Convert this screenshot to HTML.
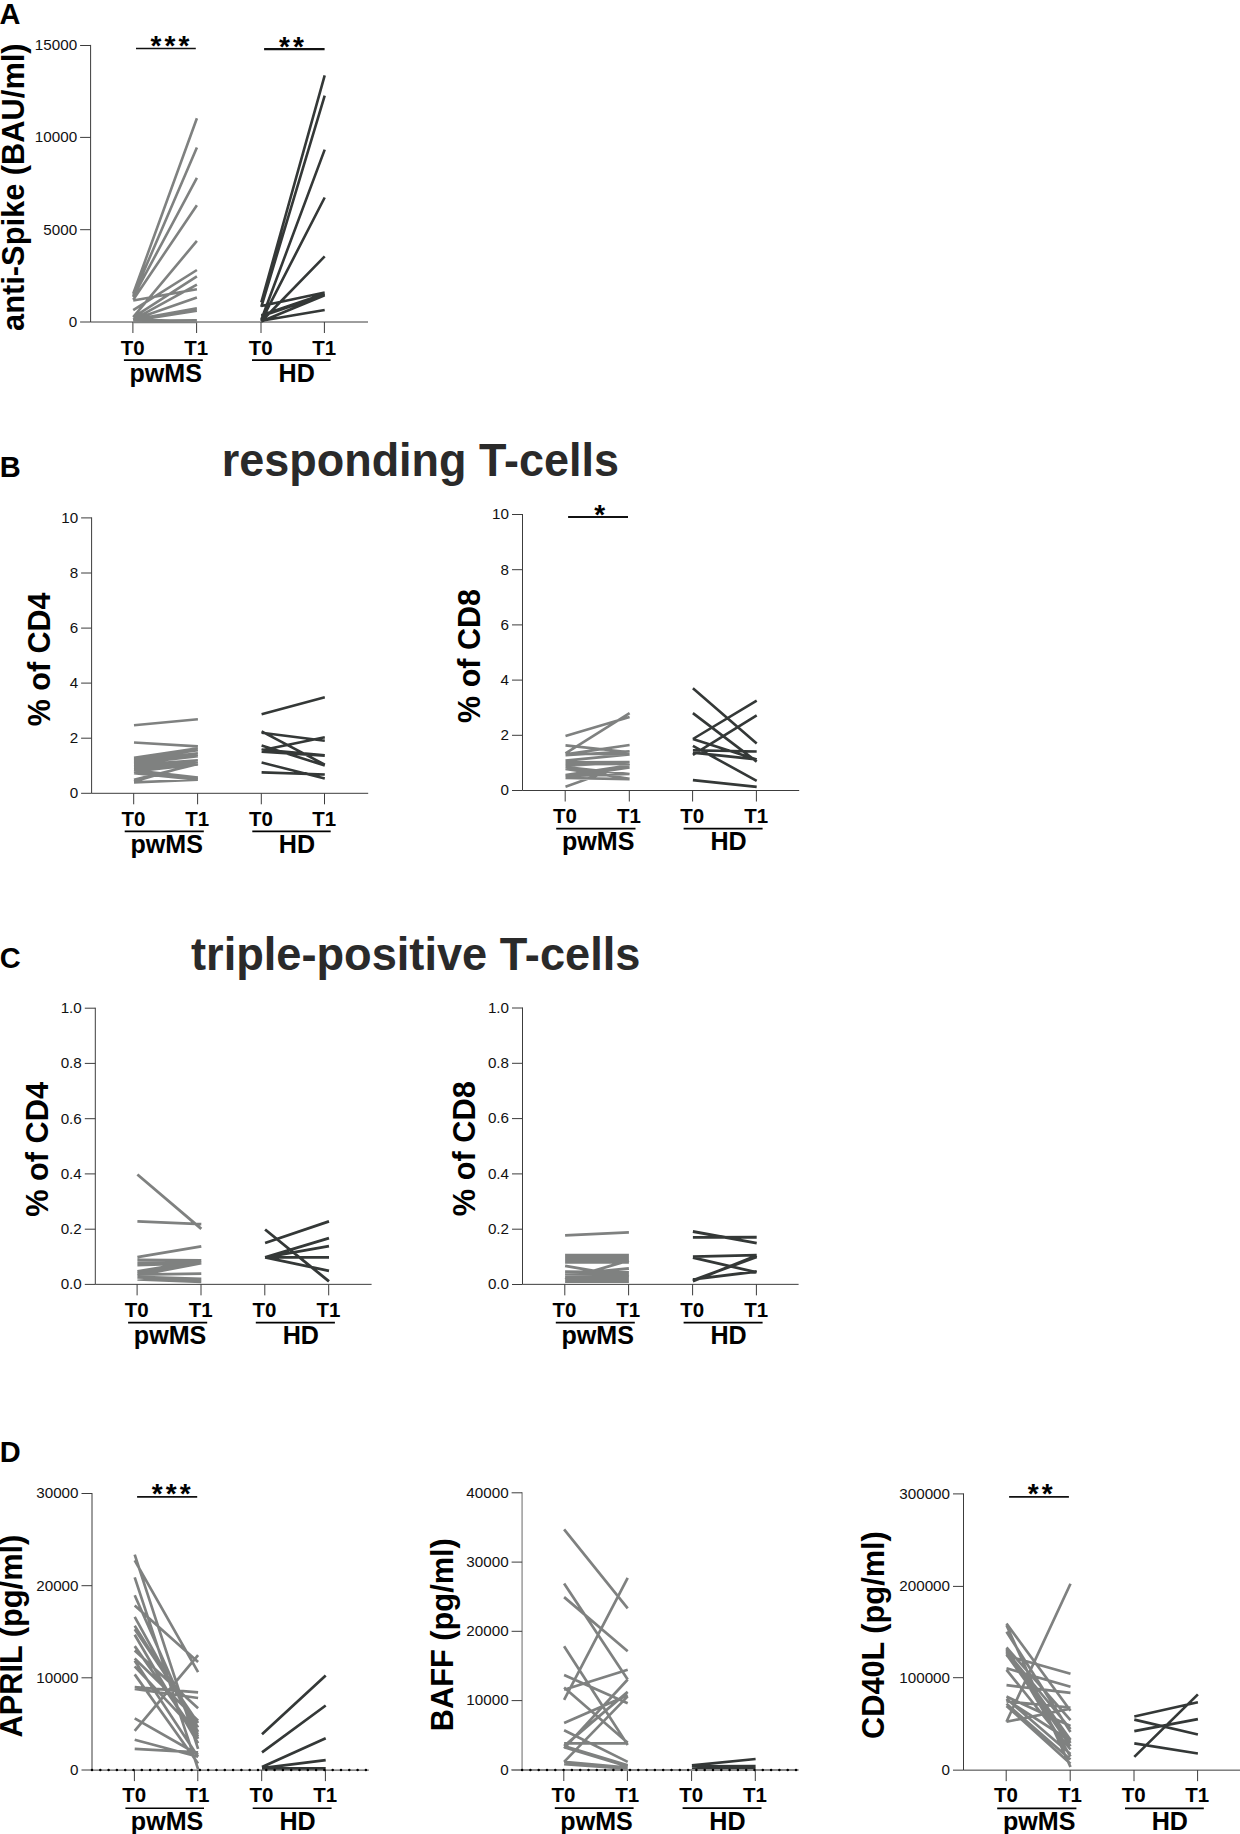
<!DOCTYPE html>
<html lang="en">
<head>
<meta charset="utf-8">
<title>Figure</title>
<style>
html,body{margin:0;padding:0;background:#fff;}
body{width:1240px;height:1834px;overflow:hidden;}
svg{display:block;}
text{font-family:"Liberation Sans",Arial,Helvetica,sans-serif;fill:#000;}
.tk{font-size:15.2px;text-anchor:end;fill:#111;}
.xt{font-size:20.5px;font-weight:bold;text-anchor:middle;}
.gp{font-size:25.1px;font-weight:bold;text-anchor:middle;}
.yl{font-size:30px;font-weight:bold;text-anchor:middle;}
.sg{font-size:28px;font-weight:bold;}
.pl{font-size:29px;font-weight:bold;}
.tt{font-size:46.2px;font-weight:bold;fill:#2a2a2a;}
</style>
</head>
<body>
<svg width="1240" height="1834" viewBox="0 0 1240 1834">
<rect width="1240" height="1834" fill="#fff"/>
<text class="pl" x="-0.4" y="23.8">A</text>
<text class="pl" x="-0.2" y="476.5">B</text>
<text class="pl" x="-0.2" y="968">C</text>
<text class="pl" x="-0.2" y="1461.6">D</text>
<text class="tt" transform="translate(221.8 476) scale(0.973 1)">responding T-cells</text>
<text class="tt" transform="translate(191.0 969.9) scale(0.978 1)">triple-positive T-cells</text>
<g>
<path d="M90.6 44.9V322H368" stroke="#3c3c3c" stroke-width="1.0" fill="none"/>
<path d="M80.1 45.5H90.6M80.1 137.4H90.6M80.1 229.7H90.6M80.1 322H90.6" stroke="#3c3c3c" stroke-width="1.0" fill="none"/>
<path d="M132.9 322V333M196.6 322V333M261 322V333M324.4 322V333" stroke="#3c3c3c" stroke-width="1.0" fill="none"/>
<path d="M133.2 293.7L196.9 118.3M133.2 296L196.9 147.6M133.2 297L196.9 177.9M133.2 299.7L196.9 205.2M133.2 317.1L196.9 240.9M133.2 300.5L196.9 289.2M133.2 310.2L196.9 270M133.2 317.4L196.9 276.3M133.2 319.7L196.9 284.7M133.2 319.7L196.9 297.5M133.2 319.7L196.9 308.4M133.2 320.8L196.9 310.6M133.2 320.8L196.9 320.3M133.2 321.9L196.9 321.9M133.2 319.6L196.9 321.2" stroke="#7f8180" stroke-width="2.6" fill="none"/>
<path d="M261.3 302.4L324.7 75.4M261.3 306.8L324.7 95.7M261.3 319.7L324.7 149.6M261.3 320.8L324.7 197.5M261.3 321.5L324.7 256.4M261.3 306.1L324.7 292.6M261.3 315.2L324.7 293.7M261.3 316.3L324.7 294.8M261.3 321.5L324.7 295.3M261.3 320.8L324.7 310" stroke="#343837" stroke-width="2.6" fill="none"/>
<text class="tk" x="77.1" y="50.35">15000</text>
<text class="tk" x="77.1" y="142.25">10000</text>
<text class="tk" x="77.1" y="234.55">5000</text>
<text class="tk" x="77.1" y="326.85">0</text>
<text class="xt" x="132.6" y="354.65">T0</text>
<text class="xt" x="196.3" y="354.65">T1</text>
<text class="xt" x="260.7" y="354.65">T0</text>
<text class="xt" x="324.1" y="354.65">T1</text>
<path d="M123.9 360.2H202.8" stroke="#000" stroke-width="1.7"/>
<text class="gp" x="165.75" y="381.55">pwMS</text>
<path d="M252 360.2H330.6" stroke="#000" stroke-width="1.7"/>
<text class="gp" x="296.7" y="381.55">HD</text>
<text class="yl" style="font-size:31.7px" transform="translate(23.7 187.15) rotate(-90) scale(0.972 1)">anti-Spike (BAU/ml)</text>
<path d="M136 48.4H195.8" stroke="#111" stroke-width="1.5"/>
<text class="sg" x="150.45" y="54.9" letter-spacing="3.11">***</text>
<path d="M264.1 49.1H324.6" stroke="#111" stroke-width="2.1"/>
<text class="sg" x="278.95" y="55.6" letter-spacing="3.11">**</text>
</g>
<g>
<path d="M91.6 517.4V793.3H368.2" stroke="#3c3c3c" stroke-width="1.0" fill="none"/>
<path d="M81.1 517.9H91.6M81.1 573H91.6M81.1 628.1H91.6M81.1 683.1H91.6M81.1 738.2H91.6M81.1 793.3H91.6" stroke="#3c3c3c" stroke-width="1.0" fill="none"/>
<path d="M133.7 793.3V804.3M197.6 793.3V804.3M261.3 793.3V804.3M324.5 793.3V804.3" stroke="#3c3c3c" stroke-width="1.0" fill="none"/>
<path d="M134 725.25L197.9 719.2M134 742.5L197.9 746.4M134 757.8L197.9 748.4M134 759.1L197.9 750.1M134 760.6L197.9 753.3M134 762L197.9 754.8M134 763.5L197.9 756.2M134 764.9L197.9 760.2M134 766.4L197.9 761.7M134 767.1L197.9 763.1M134 770.4L197.9 777.6M134 771.8L197.9 779.1M134 773.3L197.9 779.8M134 779.8L197.9 763.9M134 781.6L197.9 763.1M134 782.4L197.9 779.8M134 769.6L197.9 763.9M134 771.5L197.9 764.4" stroke="#7f8180" stroke-width="2.6" fill="none"/>
<path d="M261.6 714.3L324.8 697.3M261.6 732.8L324.8 740.8M261.6 731.4L324.8 764.7M261.6 750.2L324.8 737.2M261.6 745.5L324.8 765.5M261.6 749.5L324.8 755.3M261.6 751.7L324.8 755.7M261.6 762.6L324.8 778.5M261.6 772.4L324.8 774.5" stroke="#343837" stroke-width="2.6" fill="none"/>
<text class="tk" x="78.1" y="522.75">10</text>
<text class="tk" x="78.1" y="577.85">8</text>
<text class="tk" x="78.1" y="632.95">6</text>
<text class="tk" x="78.1" y="687.95">4</text>
<text class="tk" x="78.1" y="743.05">2</text>
<text class="tk" x="78.1" y="798.15">0</text>
<text class="xt" x="133.4" y="825.5">T0</text>
<text class="xt" x="197.3" y="825.5">T1</text>
<text class="xt" x="261" y="825.5">T0</text>
<text class="xt" x="324.2" y="825.5">T1</text>
<path d="M124.7 831.45H203.8" stroke="#000" stroke-width="1.7"/>
<text class="gp" x="166.65" y="852.8">pwMS</text>
<path d="M252.3 831.45H330.7" stroke="#000" stroke-width="1.7"/>
<text class="gp" x="296.9" y="852.8">HD</text>
<text class="yl" style="font-size:30.5px" transform="translate(49.5 659.35) rotate(-90)">% of CD4</text>
</g>
<g>
<path d="M522.5 514V790.5H799.2" stroke="#3c3c3c" stroke-width="1.0" fill="none"/>
<path d="M512 514.5H522.5M512 569.7H522.5M512 624.9H522.5M512 680.1H522.5M512 735.3H522.5M512 790.5H522.5" stroke="#3c3c3c" stroke-width="1.0" fill="none"/>
<path d="M565.2 790.5V801.5M629.3 790.5V801.5M692.6 790.5V801.5M756.4 790.5V801.5" stroke="#3c3c3c" stroke-width="1.0" fill="none"/>
<path d="M565.5 735.9L629.6 717.1M565.5 753.3L629.6 713.1M565.5 754.4L629.6 745M565.5 745.4L629.6 752.2M565.5 753.7L629.6 754.1M565.5 755.2L629.6 751.2M565.5 760.6L629.6 754.4M565.5 762.4L629.6 762M565.5 764.2L629.6 763.9M565.5 765.7L629.6 762.4M565.5 767.1L629.6 774M565.5 768.9L629.6 778.7M565.5 775.1L629.6 765.3M565.5 776.9L629.6 767.5M565.5 778L629.6 779.1M565.5 776.2L629.6 774M565.5 786.7L629.6 763.9" stroke="#7f8180" stroke-width="2.6" fill="none"/>
<path d="M692.9 688.2L756.7 743.5M692.9 713.1L756.7 761.6M692.9 739L756.7 700.6M692.9 754.8L756.7 715.3M692.9 739L756.7 759.4M692.9 745.8L756.7 780.8M692.9 750.3L756.7 751.5M692.9 752.6L756.7 759.4M692.9 780.1L756.7 786.9" stroke="#343837" stroke-width="2.6" fill="none"/>
<text class="tk" x="509" y="519.35">10</text>
<text class="tk" x="509" y="574.55">8</text>
<text class="tk" x="509" y="629.75">6</text>
<text class="tk" x="509" y="684.95">4</text>
<text class="tk" x="509" y="740.15">2</text>
<text class="tk" x="509" y="795.35">0</text>
<text class="xt" x="564.9" y="822.7">T0</text>
<text class="xt" x="629" y="822.7">T1</text>
<text class="xt" x="692.3" y="822.7">T0</text>
<text class="xt" x="756.1" y="822.7">T1</text>
<path d="M556.2 828.65H635.5" stroke="#000" stroke-width="1.7"/>
<text class="gp" x="598.25" y="850">pwMS</text>
<path d="M683.6 828.65H762.6" stroke="#000" stroke-width="1.7"/>
<text class="gp" x="728.5" y="850">HD</text>
<text class="yl" style="font-size:30.5px" transform="translate(480 656) rotate(-90)">% of CD8</text>
<path d="M568.1 517H628" stroke="#111" stroke-width="1.8"/>
<text class="sg" x="594.15" y="523.5" letter-spacing="3.11">*</text>
</g>
<g>
<path d="M95.3 1007.7V1284.35H371.6" stroke="#3c3c3c" stroke-width="1.0" fill="none"/>
<path d="M84.8 1008.2H95.3M84.8 1063.4H95.3M84.8 1118.7H95.3M84.8 1173.9H95.3M84.8 1229.2H95.3M84.8 1284.4H95.3" stroke="#3c3c3c" stroke-width="1.0" fill="none"/>
<path d="M137.1 1284.35V1295.35M201 1284.35V1295.35M264.8 1284.35V1295.35M328.7 1284.35V1295.35" stroke="#3c3c3c" stroke-width="1.0" fill="none"/>
<path d="M137.4 1174.5L201.3 1228.9M137.4 1221.3L201.3 1224.2M137.4 1257.2L201.3 1246.4M137.4 1259.9L201.3 1260.3M137.4 1261.6L201.3 1261.6M137.4 1263.4L201.3 1262.7M137.4 1265.2L201.3 1263M137.4 1271.4L201.3 1260.9M137.4 1273.2L201.3 1262M137.4 1275.4L201.3 1263M137.4 1274.7L201.3 1273.7M137.4 1276.8L201.3 1279M137.4 1278.3L201.3 1280.5M137.4 1279.4L201.3 1281.9M137.4 1277.5L201.3 1279.8" stroke="#7f8180" stroke-width="2.85" fill="none"/>
<path d="M265.1 1229.5L329 1281.4M265.1 1243L329 1221.4M265.1 1257.3L329 1238.1M265.1 1257.3L329 1246.2M265.1 1257.3L329 1257.3M265.1 1257.3L329 1270.8" stroke="#343837" stroke-width="2.85" fill="none"/>
<text class="tk" x="81.8" y="1013.05">1.0</text>
<text class="tk" x="81.8" y="1068.25">0.8</text>
<text class="tk" x="81.8" y="1123.55">0.6</text>
<text class="tk" x="81.8" y="1178.75">0.4</text>
<text class="tk" x="81.8" y="1234.05">0.2</text>
<text class="tk" x="81.8" y="1289.25">0.0</text>
<text class="xt" x="136.8" y="1317">T0</text>
<text class="xt" x="200.7" y="1317">T1</text>
<text class="xt" x="264.5" y="1317">T0</text>
<text class="xt" x="328.4" y="1317">T1</text>
<path d="M128.1 1322.7H207.2" stroke="#000" stroke-width="1.7"/>
<text class="gp" x="170.05" y="1344.05">pwMS</text>
<path d="M255.8 1322.7H334.9" stroke="#000" stroke-width="1.7"/>
<text class="gp" x="300.75" y="1344.05">HD</text>
<text class="yl" style="font-size:30.75px" transform="translate(47.7 1149.35) rotate(-90)">% of CD4</text>
</g>
<g>
<path d="M522.5 1007.5V1284.35H798.6" stroke="#3c3c3c" stroke-width="1.0" fill="none"/>
<path d="M512 1008H522.5M512 1063.3H522.5M512 1118.6H522.5M512 1173.9H522.5M512 1229.2H522.5M512 1284.5H522.5" stroke="#3c3c3c" stroke-width="1.0" fill="none"/>
<path d="M564.8 1284.35V1295.35M628.6 1284.35V1295.35M692.6 1284.35V1295.35M756.4 1284.35V1295.35" stroke="#3c3c3c" stroke-width="1.0" fill="none"/>
<path d="M565.1 1235.4L628.9 1232.4M565.1 1255.1L628.9 1255.1M565.1 1256.8L628.9 1256.8M565.1 1258.5L628.9 1258.5M565.1 1260.2L628.9 1260.2M565.1 1262.4L628.9 1262.4M565.1 1265.8L628.9 1276.9M565.1 1279.4L628.9 1260.3M565.1 1274.7L628.9 1268.5M565.1 1271.6L628.9 1272.5M565.1 1273.5L628.9 1274M565.1 1275.5L628.9 1275.5M565.1 1277.5L628.9 1277.5M565.1 1279.5L628.9 1279.5M565.1 1281.5L628.9 1281.5" stroke="#7f8180" stroke-width="2.85" fill="none"/>
<path d="M692.9 1231.5L756.7 1243.1M692.9 1237.4L756.7 1237.2M692.9 1256.7L756.7 1255.1M692.9 1257.6L756.7 1272.3M692.9 1281.2L756.7 1255.5M692.9 1280.3L756.7 1256.9M692.9 1279.4L756.7 1271.5" stroke="#343837" stroke-width="2.85" fill="none"/>
<text class="tk" x="509" y="1012.85">1.0</text>
<text class="tk" x="509" y="1068.15">0.8</text>
<text class="tk" x="509" y="1123.45">0.6</text>
<text class="tk" x="509" y="1178.75">0.4</text>
<text class="tk" x="509" y="1234.05">0.2</text>
<text class="tk" x="509" y="1289.35">0.0</text>
<text class="xt" x="564.5" y="1317">T0</text>
<text class="xt" x="628.3" y="1317">T1</text>
<text class="xt" x="692.3" y="1317">T0</text>
<text class="xt" x="756.1" y="1317">T1</text>
<path d="M555.8 1322.7H634.8" stroke="#000" stroke-width="1.7"/>
<text class="gp" x="597.7" y="1344.05">pwMS</text>
<path d="M683.6 1322.7H762.6" stroke="#000" stroke-width="1.7"/>
<text class="gp" x="728.5" y="1344.05">HD</text>
<text class="yl" style="font-size:30.75px" transform="translate(474.8 1148.65) rotate(-90)">% of CD8</text>
</g>
<g>
<path d="M92 1493V1770.1H368.8" stroke="#3c3c3c" stroke-width="1.0" fill="none"/>
<path d="M81.5 1493.5H92M81.5 1585.7H92M81.5 1677.8H92M81.5 1770H92" stroke="#3c3c3c" stroke-width="1.0" fill="none"/>
<path d="M134.4 1770.1V1781.1M197.8 1770.1V1781.1M261.7 1770.1V1781.1M325.4 1770.1V1781.1" stroke="#3c3c3c" stroke-width="1.0" fill="none"/>
<path d="M134.7 1554.7L198.1 1748.9M134.7 1560.3L198.1 1672.1M134.7 1577.3L198.1 1769.2M134.7 1595.3L198.1 1738.7M134.7 1605.5L198.1 1661.9M134.7 1616.8L198.1 1731.9M134.7 1625.8L198.1 1727.4M134.7 1629.2L198.1 1722.9M134.7 1646.1L198.1 1736.4M134.7 1650.6L198.1 1708.2M134.7 1658.5L198.1 1720.6M134.7 1660.8L198.1 1756.8M134.7 1674.4L198.1 1763.5M134.7 1687.2L198.1 1692.4M134.7 1689L198.1 1698M134.7 1730.8L198.1 1655.2M134.7 1718.4L198.1 1754.5M134.7 1739.8L198.1 1756.8M134.7 1748.9L198.1 1752.3M134.7 1634.8L198.1 1743.2M134.7 1666.4L198.1 1734.2" stroke="#7f8180" stroke-width="2.7" fill="none"/>
<path d="M262 1734.2L325.7 1675.5M262 1752.3L325.7 1705.5M262 1766.9L325.7 1738.3M262 1768.1L325.7 1760.2M262 1768.3L325.7 1768.4" stroke="#343837" stroke-width="2.7" fill="none"/>
<path d="M92 1770.1H369.8" stroke="#000" stroke-width="2.5" stroke-linecap="round" stroke-dasharray="0 8.3" fill="none"/>
<text class="tk" x="78.5" y="1498.35">30000</text>
<text class="tk" x="78.5" y="1590.55">20000</text>
<text class="tk" x="78.5" y="1682.65">10000</text>
<text class="tk" x="78.5" y="1774.85">0</text>
<text class="xt" x="134.1" y="1801.95">T0</text>
<text class="xt" x="197.5" y="1801.95">T1</text>
<text class="xt" x="261.4" y="1801.95">T0</text>
<text class="xt" x="325.1" y="1801.95">T1</text>
<path d="M125.4 1808.25H204" stroke="#000" stroke-width="1.7"/>
<text class="gp" x="167.1" y="1829.6">pwMS</text>
<path d="M252.7 1808.25H331.6" stroke="#000" stroke-width="1.7"/>
<text class="gp" x="297.55" y="1829.6">HD</text>
<text class="yl" style="font-size:30.75px" transform="translate(22 1636.1) rotate(-90)">APRIL (pg/ml)</text>
<path d="M137.1 1496.85H197.2" stroke="#111" stroke-width="1.9"/>
<text class="sg" x="151.85" y="1503.35" letter-spacing="3.11">***</text>
</g>
<g>
<path d="M522.1 1492.3V1770H798.4" stroke="#a6a6a6" stroke-width="1.7" fill="none"/>
<path d="M511.6 1492.8H522.1M511.6 1562.1H522.1M511.6 1631.3H522.1M511.6 1700.6H522.1M511.6 1769.8H522.1" stroke="#3c3c3c" stroke-width="1.0" fill="none"/>
<path d="M563.8 1770V1781M627.4 1770V1781M691.6 1770V1781M755.3 1770V1781" stroke="#3c3c3c" stroke-width="1.0" fill="none"/>
<path d="M564.1 1529.4L627.7 1608.4M564.1 1583.5L627.7 1679.5M564.1 1597.1L627.7 1651.3M564.1 1699.8L627.7 1577.9M564.1 1646.3L627.7 1745M564.1 1675L627.7 1703.2M564.1 1689.7L627.7 1669.8M564.1 1687.4L627.7 1742.7M564.1 1723.1L627.7 1695.3M564.1 1730.3L627.7 1761.9M564.1 1743.4L627.7 1743.4M564.1 1746.1L627.7 1691.9M564.1 1748.4L627.7 1679.5M564.1 1761.9L627.7 1696.4M564.1 1746.1L627.7 1765.3M564.1 1747.3L627.7 1766.4M564.1 1761.9L627.7 1767.6M564.1 1764.2L627.7 1768.7" stroke="#7f8180" stroke-width="2.7" fill="none"/>
<path d="M691.9 1765.3L755.6 1759M691.9 1766.4L755.6 1766M691.9 1767.6L755.6 1767.6M691.9 1768.5L755.6 1768.5M691.9 1766L755.6 1768.5" stroke="#343837" stroke-width="2.7" fill="none"/>
<path d="M511.6 1770H798.4" stroke="#8a8a8a" stroke-width="1.8" fill="none"/>
<path d="M522.1 1770H799.4" stroke="#000" stroke-width="2.5" stroke-linecap="round" stroke-dasharray="0 8.3" fill="none"/>
<text class="tk" x="508.6" y="1497.65">40000</text>
<text class="tk" x="508.6" y="1566.95">30000</text>
<text class="tk" x="508.6" y="1636.15">20000</text>
<text class="tk" x="508.6" y="1705.45">10000</text>
<text class="tk" x="508.6" y="1774.65">0</text>
<text class="xt" x="563.5" y="1802.2">T0</text>
<text class="xt" x="627.1" y="1802.2">T1</text>
<text class="xt" x="691.3" y="1802.2">T0</text>
<text class="xt" x="755" y="1802.2">T1</text>
<path d="M554.8 1808.15H633.6" stroke="#000" stroke-width="1.7"/>
<text class="gp" x="596.6" y="1829.5">pwMS</text>
<path d="M682.6 1808.15H761.5" stroke="#000" stroke-width="1.7"/>
<text class="gp" x="727.45" y="1829.5">HD</text>
<text class="yl" style="font-size:30.75px" transform="translate(453.3 1634.7) rotate(-90)">BAFF (pg/ml)</text>
</g>
<g>
<path d="M963.5 1493.4V1770.15H1240" stroke="#3c3c3c" stroke-width="1.0" fill="none"/>
<path d="M953 1493.9H963.5M953 1586.4H963.5M953 1677.7H963.5M953 1770.15H963.5" stroke="#3c3c3c" stroke-width="1.0" fill="none"/>
<path d="M1006.2 1770.15V1781.15M1070.2 1770.15V1781.15M1134 1770.15V1781.15M1197.6 1770.15V1781.15" stroke="#3c3c3c" stroke-width="1.0" fill="none"/>
<path d="M1006.5 1721.7L1070.5 1583.7M1006.5 1623.5L1070.5 1710.8M1006.5 1625.2L1070.5 1767M1006.5 1631.7L1070.5 1732.1M1006.5 1655.7L1070.5 1673.7M1006.5 1668.3L1070.5 1686.8M1006.5 1685.2L1070.5 1692.8M1006.5 1701.5L1070.5 1707.5M1006.5 1721.7L1070.5 1708.6M1006.5 1647.5L1070.5 1720.1M1006.5 1650.3L1070.5 1739.7M1006.5 1653L1070.5 1746.3M1006.5 1669.9L1070.5 1749.5M1006.5 1696.6L1070.5 1726.1M1006.5 1698.8L1070.5 1753.9M1006.5 1703.7L1070.5 1759.4M1006.5 1705.9L1070.5 1763.7M1006.5 1649L1070.5 1756.5M1006.5 1651.5L1070.5 1729M1006.5 1654.5L1070.5 1743M1006.5 1699.8L1070.5 1741" stroke="#7f8180" stroke-width="2.7" fill="none"/>
<path d="M1134.3 1716.5L1197.9 1702.3M1134.3 1719.6L1197.9 1734.5M1134.3 1731.2L1197.9 1719.2M1134.3 1743.4L1197.9 1753.5M1134.3 1756.9L1197.9 1694.4" stroke="#343837" stroke-width="2.7" fill="none"/>
<text class="tk" x="950" y="1498.75">300000</text>
<text class="tk" x="950" y="1591.25">200000</text>
<text class="tk" x="950" y="1682.55">100000</text>
<text class="tk" x="950" y="1775">0</text>
<text class="xt" x="1005.9" y="1802.35">T0</text>
<text class="xt" x="1069.9" y="1802.35">T1</text>
<text class="xt" x="1133.7" y="1802.35">T0</text>
<text class="xt" x="1197.3" y="1802.35">T1</text>
<path d="M997.2 1808.3H1076.4" stroke="#000" stroke-width="1.7"/>
<text class="gp" x="1039.2" y="1829.65">pwMS</text>
<path d="M1125 1808.3H1203.8" stroke="#000" stroke-width="1.7"/>
<text class="gp" x="1169.8" y="1829.65">HD</text>
<text class="yl" style="font-size:30.75px" transform="translate(883.9 1635.1) rotate(-90)">CD40L (pg/ml)</text>
<path d="M1009.1 1496.85H1068.9" stroke="#111" stroke-width="1.9"/>
<text class="sg" x="1027.7" y="1503.35" letter-spacing="3.11">**</text>
</g>
</svg>
</body>
</html>
